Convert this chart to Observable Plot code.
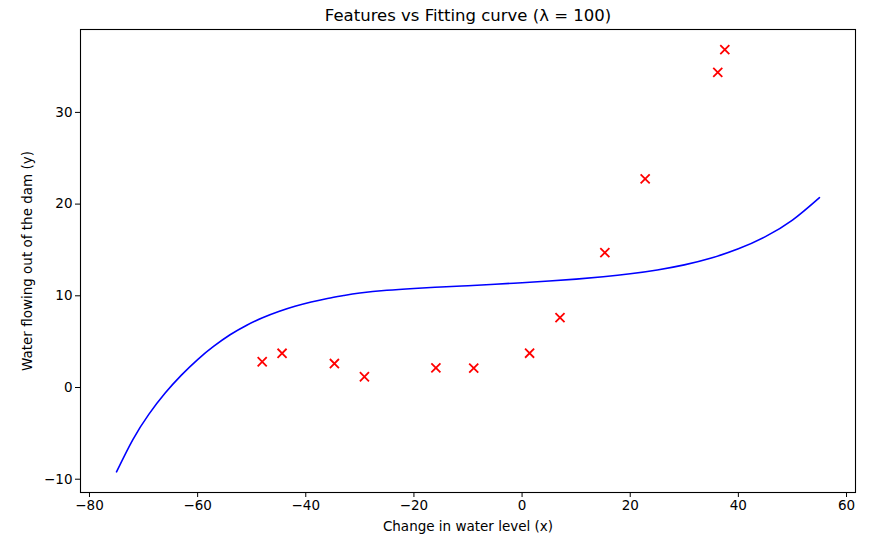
<!DOCTYPE html>
<html>
<head>
<meta charset="utf-8">
<script src="https://cdn.jsdelivr.net/npm/d3@7"></script>
<script src="https://cdn.jsdelivr.net/npm/@observablehq/plot@0.6"></script>
<style>
  html, body { margin: 0; padding: 0; background: white; }
</style>
</head>
<body>
<div id="chart"></div>
<script>
const titleText = "Features vs Fitting curve (λ = 100)";
const xLabel = "Change in water level (x)";
const yLabel = "Water flowing out of the dam (y)";

// Training points
const pointX = [-15.9368, -29.1530, 36.1895, 37.4922, -48.0588, -8.9415, 15.3078, -34.7063, 1.3892, -44.3838, 7.0135, 22.7627];
const pointY = [2.1343, 1.1733, 34.3591, 36.8380, 2.8090, 2.1211, 14.7103, 2.6142, 3.7402, 3.7317, 7.6277, 22.7524];

// Fitted curve
const curveX = [-75, -72, -69, -66, -63, -60, -57, -54, -51, -48, -45, -42, -39, -36, -33, -30, -25, -20, -15, -10, -5, 0, 5, 10, 15, 20, 25, 30, 35, 40, 45, 50, 55];
const curveY = [-9.2, -5.7, -2.9, -0.6, 1.35, 3.05, 4.5, 5.75, 6.77, 7.6, 8.28, 8.85, 9.32, 9.71, 10.03, 10.3, 10.6, 10.8, 10.96, 11.1, 11.26, 11.43, 11.61, 11.82, 12.08, 12.4, 12.82, 13.37, 14.12, 15.12, 16.45, 18.25, 20.7];

const xTicks = [-80, -60, -40, -20, 0, 20, 40, 60];
const yTicks = [-10, 0, 10, 20, 30];

const points = pointX.map((x, i) => ({x, y: pointY[i]}));
const curve = curveX.map((x, i) => ({x, y: curveY[i]}));

const chart = Plot.plot({
  width: 882,
  height: 544,
  marginLeft: 80,
  marginRight: 27,
  marginTop: 29,
  marginBottom: 52,
  style: {fontFamily: "DejaVu Sans", background: "white", color: "black"},
  x: {domain: [-81.66, 61.66]},
  y: {domain: [-11.45, 39.04]},
  marks: [
    Plot.line(curve, {x: "x", y: "y", stroke: "blue", strokeWidth: 1.6, curve: "natural"}),
    Plot.dot(points, {x: "x", y: "y", symbol: "times", r: 4.2, stroke: "red", strokeWidth: 1.8}),
    Plot.frame({stroke: "black", strokeWidth: 1.1}),
    Plot.axisX({ticks: xTicks, tickSize: 5, tickPadding: 3, fontSize: 13.5, label: null, tickFormat: d => d3.format("d")(d).replace("-", "−")}),
    Plot.axisY({ticks: yTicks, tickSize: 5, tickPadding: 3, fontSize: 13.5, label: null, tickFormat: d => d3.format("d")(d).replace("-", "−")}),
    Plot.text([titleText], {frameAnchor: "top", dy: -14, lineAnchor: "middle", fontSize: 16.5, fill: "black"}),
    Plot.text([xLabel], {frameAnchor: "bottom", dy: 34, lineAnchor: "middle", fontSize: 13.5, fill: "black"}),
    Plot.text([yLabel], {frameAnchor: "left", dx: -53, rotate: -90, lineAnchor: "middle", textAnchor: "middle", fontSize: 13.5, fill: "black"})
  ]
});
document.getElementById("chart").appendChild(chart);
</script>
</body>
</html>
